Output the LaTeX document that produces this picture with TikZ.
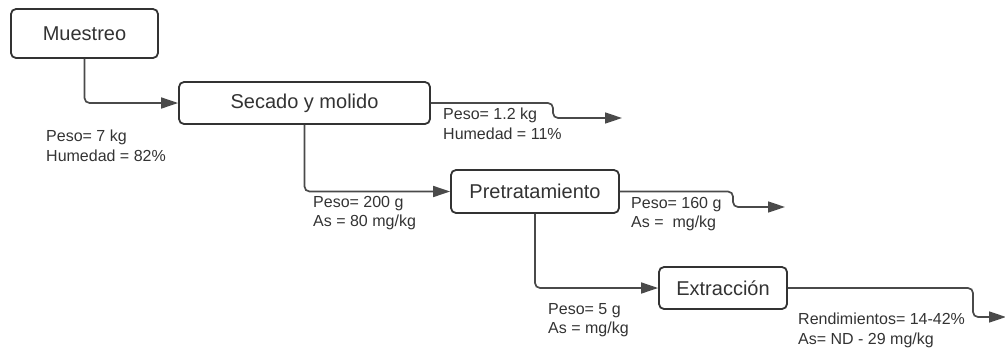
\documentclass[tikz,border=0pt]{standalone}
\usepackage{fontspec}
\setmainfont{Liberation Sans}
\usetikzlibrary{arrows.meta}
\definecolor{ink}{HTML}{333333}
\definecolor{wire}{HTML}{4A4A4A}
\tikzset{
  procbox/.style={draw=ink, line width=1.8pt, rounded corners=5pt, fill=white,
    text=ink, font=\fontsize{20}{24}\selectfont, inner sep=0pt},
  conn/.style={draw=wire, line width=1.7pt, rounded corners=5pt,
    -{Triangle[length=17pt,width=11pt]}},
  info/.style={text=ink, font=\fontsize{16}{19.5}\selectfont, align=left,
    anchor=north west, inner sep=0pt}
}
\begin{document}
\begin{tikzpicture}[x=1pt,y=-1pt]
\useasboundingbox (0,0) rectangle (1005,349);
\node[procbox, minimum width=147pt, minimum height=49pt] (mue) at (84.5,33.5) {Muestreo};
\node[procbox, minimum width=251pt, minimum height=42pt] (sec) at (304.5,103) {Secado y molido};
\node[procbox, minimum width=168pt, minimum height=43pt] (pre) at (535,191.5) {Pretratamiento};
\node[procbox, minimum width=128pt, minimum height=42pt] (ext) at (723,288) {Extracción};

\coordinate (k1) at (553,103);
\coordinate (o1) at (622,118);
\coordinate (k2) at (733,191.5);
\coordinate (o2) at (785,207);
\coordinate (k3) at (973,288);
\coordinate (o3) at (1006,317);

\draw[conn] (mue.south) |- (sec.west);
\draw[conn] (sec.south) |- (pre.west);
\draw[conn] (pre.south) |- (ext.west);
\draw[conn] (sec.east) -- (k1) |- (o1);
\draw[conn] (pre.east) -- (k2) |- (o2);
\draw[conn] (ext.east) -- (k3) |- (o3);

\node[info] (l1) at (46,130) {Peso= 7 kg\\Humedad = 82\%};
\node[info] (l2) at (443,108) {Peso= 1.2 kg\\Humedad = 11\%};
\node[info] (l3) at (313,196) {Peso= 200 g\\As = 80 mg/kg};
\node[info] (l4) at (631,197) {Peso= 160 g\\As = \ mg/kg};
\node[info] (l5) at (548,303) {Peso= 5 g\\As = mg/kg};
\node[info] (l6) at (798,313) {Rendimientos= 14-42\%\\As= ND - 29 mg/kg};
\end{tikzpicture}
\end{document}
